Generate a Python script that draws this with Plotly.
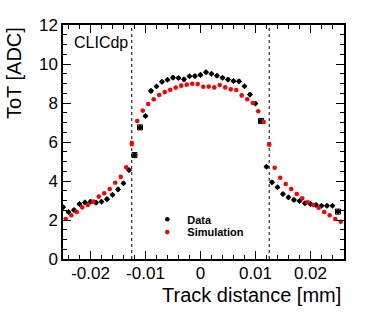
import plotly.graph_objects as go

# ---------------- data ----------------
# track distance in micrometres, converted to mm below
data_x_um = [-25, -24, -23, -22, -21, -20, -19, -18, -17, -16, -15, -14, -13,
             -12, -11, -10, -9, -8, -7, -6, -5, -4, -3, -2, -1, 0,
             1, 2, 3, 4, 5, 6, 7, 8, 9, 10, 11, 12, 13, 14, 15, 16, 17,
             18, 19, 20, 21, 22, 23, 24, 25]
data_tot = [2.66, 2.41, 2.51, 2.82, 2.90, 2.94, 2.89, 2.94, 3.07, 3.29, 3.57, 3.88, 4.56,
            5.33, 6.75, 7.33, 8.62, 8.85, 9.09, 9.19, 9.30, 9.28, 9.21, 9.37, 9.38, 9.44,
            9.58, 9.50, 9.40, 9.29, 9.20, 9.13, 9.11, 8.86, 8.43, 7.97, 7.08, 4.73, 3.93,
            3.68, 3.33, 3.16, 3.03, 2.97, 2.86, 2.82, 2.77, 2.73, 2.73, 2.73, 2.43]
data_err_tot = [0, 0, 0, 0, 0, 0, 0, 0, 0, 0, 0, 0, 0,
                0.13, 0.13, 0, 0, 0, 0, 0, 0, 0, 0, 0, 0, 0,
                0, 0, 0, 0, 0, 0, 0, 0, 0, 0, 0.13, 0, 0,
                0, 0, 0, 0, 0, 0, 0, 0, 0, 0, 0, 0.13]

sim_x_um = [-24.5, -23.5, -22.5, -21.5, -20.5, -19.5, -18.5, -17.5, -16.5, -15.5,
            -14.5, -13.5, -12.5, -11.5, -10.5, -9.5, -8.5, -7.5, -6.5, -5.5, -4.5,
            -3.5, -2.5, -1.5, -0.5, 0.5, 1.5, 2.5, 3.5, 4.5, 5.5, 6.5, 7.5, 8.5,
            9.5, 10.5, 11.5, 12.5, 13.5, 14.5, 15.5, 16.5, 17.5, 18.5, 19.5, 20.5,
            21.5, 22.5, 23.5, 24.5, 25.5]
sim_tot = [2.05, 2.24, 2.41, 2.65, 2.77, 2.94, 3.20, 3.37, 3.59, 3.91,
           4.21, 4.70, 5.92, 7.08, 7.61, 7.95, 8.19, 8.41, 8.56, 8.68, 8.79,
           8.89, 8.94, 8.99, 8.97, 8.83, 8.84, 8.80, 8.92, 8.80, 8.70, 8.67, 8.39, 8.19,
           8.00, 7.58, 7.03, 5.88, 4.68, 4.17, 3.85, 3.59, 3.33, 3.11, 2.91, 2.77,
           2.63, 2.41, 2.24, 2.05, 1.91]
sim_err_tot = [0] * 12 + [0.14] + [0] * 24 + [0.12] + [0] * 13

pixel_edges_um = [-12.5, 12.5]

x_range = [-0.0250, 0.0261]
y_range = [0, 12]
x_tick_vals = [-0.02, -0.01, 0, 0.01, 0.02]
x_tick_text = ["-0.02", "-0.01", "0", "0.01", "0.02"]
y_tick_vals = [0, 2, 4, 6, 8, 10, 12]

# ---------------- figure ----------------
FONT = "Liberation Sans, Arial, Helvetica, sans-serif"

data_x = [v / 1000 for v in data_x_um]
sim_x = [v / 1000 for v in sim_x_um]

fig = go.Figure()

fig.add_trace(go.Scatter(
    x=data_x, y=data_tot, mode="markers", name="Data", legend="legend",
    marker=dict(color="black", size=4.6, line=dict(width=0)),
    error_y=dict(type="data", array=data_err_tot, visible=True,
                 color="black", thickness=1, width=2.6),
    error_x=dict(type="data", array=[0.00045 if e > 0 else 0 for e in data_err_tot],
                 visible=True, color="black", thickness=1, width=2.6),
))
fig.add_trace(go.Scatter(
    x=sim_x, y=sim_tot, mode="markers", name="Simulation", legend="legend2",
    marker=dict(color="#ff0000", size=4.6, line=dict(width=0)),
    error_y=dict(type="data", array=sim_err_tot, visible=True,
                 color="#ff0000", thickness=3.5, width=0),
))

for xe in pixel_edges_um:
    fig.add_shape(type="line", xref="x", yref="y",
                  x0=xe / 1000, x1=xe / 1000, y0=y_range[0], y1=y_range[1],
                  line=dict(color="black", width=1, dash="dot"), layer="below")

axis_common = dict(
    showgrid=False, zeroline=False, showline=True, linecolor="black",
    linewidth=1.5, mirror="allticks", ticks="inside", tickcolor="black",
    tickwidth=1, ticklen=8,
    tickfont=dict(family=FONT, size=17, color="black"),
)

fig.update_xaxes(
    range=x_range, tickmode="array", tickvals=x_tick_vals, ticktext=x_tick_text,
    ticklabelstandoff=-2,
    minor=dict(ticks="inside", dtick=0.002, tick0=0, ticklen=4,
               tickcolor="black", tickwidth=1),
    **axis_common,
)
fig.update_yaxes(
    range=y_range, tickmode="array", tickvals=y_tick_vals,
    minor=dict(ticks="inside", dtick=0.5, tick0=0, ticklen=4,
               tickcolor="black", tickwidth=1),
    **axis_common,
)

fig.add_annotation(text="ToT [ADC]", xref="paper", yref="paper", x=0, y=1,
                   xanchor="center", yanchor="top", xshift=-49, textangle=-90,
                   showarrow=False, font=dict(family=FONT, size=20, color="black"))
fig.add_annotation(text="Track distance [mm]", xref="paper", yref="paper", x=1, y=0,
                   xanchor="right", yanchor="middle", xshift=-1, yshift=-36,
                   showarrow=False, font=dict(family=FONT, size=20, color="black"))
fig.add_annotation(text="CLICdp", xref="paper", yref="paper", x=0, y=1,
                   xanchor="left", yanchor="middle", xshift=9, yshift=-17,
                   showarrow=False, font=dict(family=FONT, size=16, color="black"))

legend_style = dict(xanchor="left", yanchor="top", bgcolor="rgba(0,0,0,0)",
                    borderwidth=0, itemsizing="trace",
                    font=dict(family=FONT, size=11, color="black", weight="bold"))

fig.update_layout(
    width=374, height=316,
    margin=dict(l=63, r=30, t=25, b=57),
    paper_bgcolor="white", plot_bgcolor="white",
    showlegend=True,
    legend=dict(x=0.30, y=0.232, **legend_style),
    legend2=dict(x=0.30, y=0.177, **legend_style),
)

fig.write_html("out.html", config={"displayModeBar": False},
               post_script="document.body.style.margin='0px';")
